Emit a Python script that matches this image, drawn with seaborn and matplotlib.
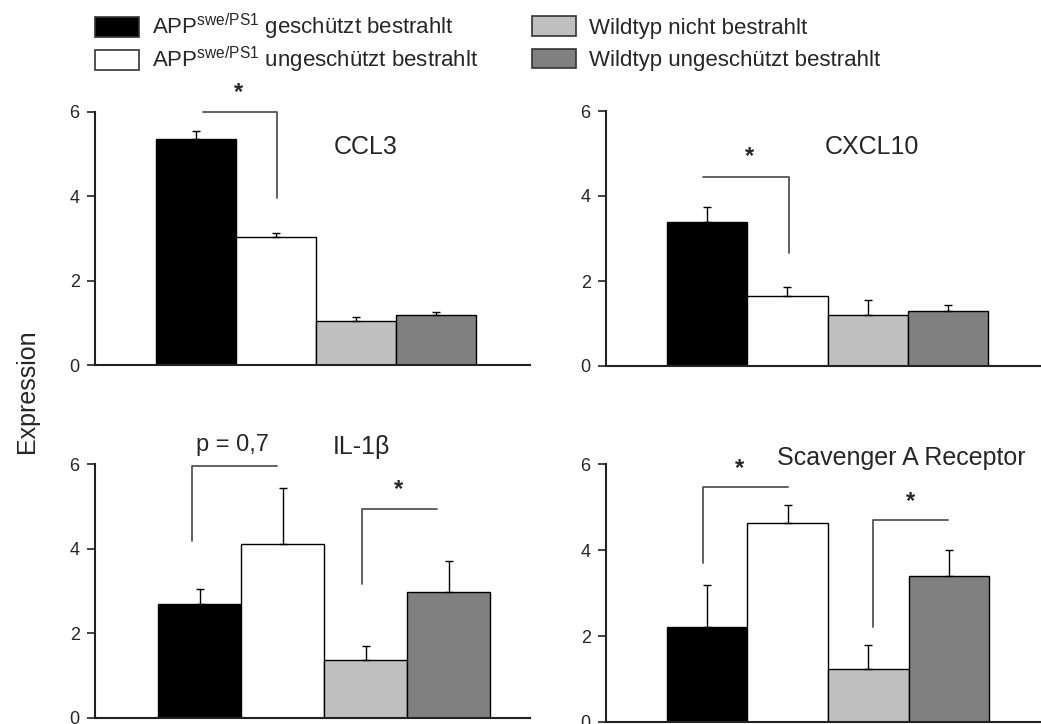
import matplotlib
matplotlib.use("Agg")
import matplotlib.pyplot as plt
from matplotlib.patches import Patch
import pandas as pd
import seaborn as sns

# groups / legend
groups = ["APP geschuetzt", "APP ungeschuetzt", "WT nicht", "WT ungeschuetzt"]
legend_labels = [r"APP$^{\mathrm{swe/PS1}}$ geschützt bestrahlt",
                 r"APP$^{\mathrm{swe/PS1}}$ ungeschützt bestrahlt",
                 "Wildtyp nicht bestrahlt",
                 "Wildtyp ungeschützt bestrahlt"]
colors = ["#000000", "#ffffff", "#c0c0c0", "#808080"]

# values (mean, upper error)
titles = ["CCL3", "CXCL10", "IL-1β", "Scavenger A Receptor"]
ccl3_mean = [5.35, 3.04, 1.05, 1.18]
ccl3_err = [0.19, 0.08, 0.09, 0.07]
cxcl10_mean = [3.40, 1.65, 1.19, 1.30]
cxcl10_err = [0.33, 0.21, 0.37, 0.13]
il1b_mean = [2.69, 4.12, 1.37, 2.97]
il1b_err = [0.35, 1.32, 0.33, 0.74]
sra_mean = [2.22, 4.64, 1.24, 3.40]
sra_err = [0.97, 0.42, 0.56, 0.61]

means = [ccl3_mean, cxcl10_mean, il1b_mean, sra_mean]
errs = [ccl3_err, cxcl10_err, il1b_err, sra_err]

# significance brackets and labels per panel
brackets = [
    [[(0.09, 6.0), (1.02, 6.0), (1.02, 3.97)]],
    [[(-0.05, 4.45), (1.02, 4.45), (1.02, 2.67)]],
    [[(-0.09, 4.19), (-0.09, 5.97), (0.93, 5.97)],
     [(1.96, 3.17), (1.96, 4.95), (2.86, 4.95)]],
    [[(-0.05, 3.70), (-0.05, 5.47), (1.01, 5.47)],
     [(2.06, 2.22), (2.06, 4.71), (2.99, 4.71)]],
]
sig_labels = [
    [("*", 0.54, 6.46)],
    [("*", 0.53, 4.92)],
    [("p = 0,7", 0.40, 6.46), ("*", 2.40, 5.40)],
    [("*", 0.40, 5.90), ("*", 2.52, 5.13)],
]
title_pos = [(2.13, 5.17), (2.05, 5.16), (1.95, 6.42), (2.41, 6.15)]

W, H = 1041, 724
rects = [
    [95 / W, (H - 365) / H, 435 / W, 253 / H],
    [606 / W, (H - 366) / H, 435 / W, 255 / H],
    [95 / W, (H - 717.7) / H, 435 / W, 253.4 / H],
    [606 / W, (H - 722) / H, 435 / W, 257.7 / H],
]
xlims = [(-1.26, 4.18), (-1.26, 4.16), (-1.26, 3.98), (-1.25, 4.14)]

sns.set_style("white")
plt.rcParams['font.family'] = ['Liberation Sans', 'DejaVu Sans']
plt.rcParams['mathtext.fontset'] = 'custom'
plt.rcParams['mathtext.rm'] = 'Liberation Sans'

fig = plt.figure(figsize=(W / 100, H / 100), dpi=100)

for i in range(4):
    ax = fig.add_axes(rects[i])
    df = pd.DataFrame({'group': groups, 'mean': means[i]})
    sns.barplot(data=df, x='group', y='mean', hue='group', order=groups,
                hue_order=groups, palette=colors, width=1.0, edgecolor='black',
                linewidth=1.0, legend=False, ax=ax)
    ax.errorbar(range(len(groups)), means[i], yerr=[[0] * 4, errs[i]],
                fmt='none', ecolor='black', elinewidth=1.0, capsize=3,
                capthick=1.0, zorder=5)
    for pts in brackets[i]:
        xs = [p[0] for p in pts]
        ys = [p[1] for p in pts]
        ax.plot(xs, ys, color='#555555', lw=1.3, clip_on=False, zorder=6)
    for txt, tx, ty in sig_labels[i]:
        ax.text(tx, ty, txt, ha='center', va='center', fontsize=17,
                fontweight='bold' if txt == '*' else 'normal', clip_on=False)
    ax.text(title_pos[i][0], title_pos[i][1], titles[i], ha='center',
            va='center', fontsize=18, clip_on=False)

    ax.set_xlim(*xlims[i])
    ax.set_ylim(0, 6)
    ax.set_yticks([0, 2, 4, 6])
    ax.set_xticks([])
    ax.set_xlabel('')
    ax.set_ylabel('')
    sns.despine(ax=ax)
    for s in ['left', 'bottom']:
        ax.spines[s].set_color('#222222')
        ax.spines[s].set_linewidth(1.5)
    ax.tick_params(axis='y', direction='out', length=6, width=1.2,
                   labelsize=13, pad=5, left=True, color='#222222')

fig.text(0.026, 0.46, 'Expression', rotation=90, ha='center', va='center',
         fontsize=18)

handles = [Patch(facecolor=c, edgecolor='#333333', linewidth=1.2) for c in colors]
leg_kw = dict(loc='upper left', frameon=False, fontsize=16,
              handlelength=2.0, handleheight=1.0, handletextpad=0.55,
              borderpad=0, borderaxespad=0)
# left column (APP) and right column (Wildtyp)
fig.legend(handles[:2], legend_labels[:2], bbox_to_anchor=(95 / W, 1 - 12 / H),
           labelspacing=0.13, **leg_kw)
fig.legend(handles[2:], legend_labels[2:], bbox_to_anchor=(532 / W, 1 - 16 / H),
           labelspacing=0.45, **leg_kw)

plt.savefig('out.png', dpi=100)
